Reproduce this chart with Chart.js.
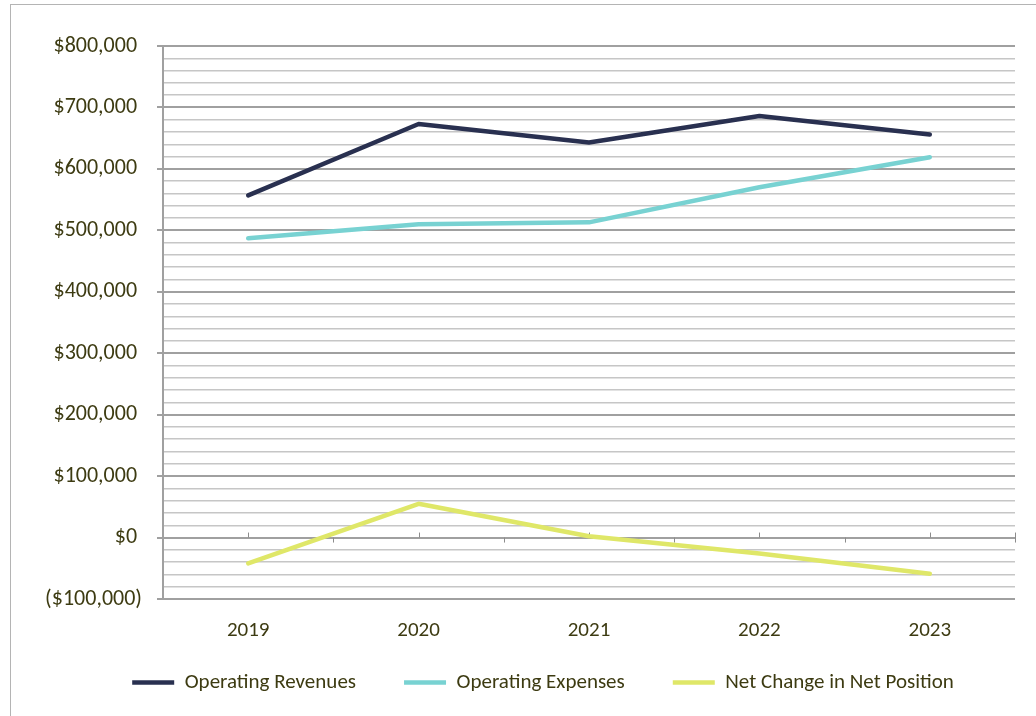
<!DOCTYPE html>
<html>
<head>
<meta charset="utf-8">
<script src="https://cdn.jsdelivr.net/npm/chart.js@4/dist/chart.umd.min.js"></script>
<style>
  html, body { margin: 0; padding: 0; background: #fff; overflow: hidden; }
  .frame { position: absolute; left: 10px; top: 4px; width: 1100px; height: 800px; border: 1px solid #b4b4b4; }
  .wrap { position: absolute; left: 0; top: 0; width: 1036px; height: 716px; }
</style>
</head>
<body>
<div class="frame"></div>
<div class="wrap"><canvas id="finChart"></canvas></div>
<script>
(function() {

    const years = ['2019', '2020', '2021', '2022', '2023'];
    const operatingRevenues = [557000, 673000, 643000, 686000, 656000];
    const operatingExpenses = [487000, 510000, 513000, 570000, 619000];
    const netChange = [-42000, 55000, 2000, -26000, -59000];

    const textColor = '#3d3b12';
    const fontFamily = 'Carlito, Lato, sans-serif';

    const fmt = (v) => {
        const s = '$' + Math.abs(v).toLocaleString('en-US');
        return v < 0 ? '(' + s + ')' : s + ' ';
    };

    // tick marks on the zero line, like the category axis crossing at 0
    const zeroAxisTicks = {
        id: 'zeroAxisTicks',
        beforeDatasetsDraw(chart) {
            const x = chart.scales.x, y = chart.scales.y, ctx = chart.ctx;
            const y0 = y.getPixelForValue(0);
            ctx.save();
            ctx.strokeStyle = '#8c8c8c';
            ctx.lineWidth = 1;
            ctx.beginPath();
            for (let i = 0; i < years.length; i++) {
                const cx = Math.round(x.getPixelForValue(i)) + 0.5;
                ctx.moveTo(cx, y0 - 5);
                ctx.lineTo(cx, y0);
                const bx = Math.round(x.getPixelForValue(i + 0.5)) + 0.5;
                ctx.moveTo(bx, i === years.length - 1 ? y0 - 5 : y0);
                ctx.lineTo(bx, y0 + 5);
            }
            ctx.stroke();
            ctx.restore();
        }
    };

    // keep tick labels from being clipped to the fixed axis boxes
    const unclipLabels = {
        id: 'unclipLabels',
        afterLayout(chart) {
            chart.scales.y.left = 0;
            chart.scales.x.bottom = chart.height;
        }
    };

    const lineDs = (label, data, color) => ({
        label: label,
        data: data,
        borderColor: color,
        backgroundColor: color,
        borderWidth: 4.5,
        borderCapStyle: 'round',
        borderJoinStyle: 'round',
        pointRadius: 0,
        pointHoverRadius: 0,
        tension: 0
    });

    const isMajor = (c) => c.tick && c.tick.value % 100000 === 0;

    new Chart(document.getElementById('finChart'), {
        type: 'line',
        data: {
            labels: years,
            datasets: [
                lineDs('Operating Revenues', operatingRevenues, '#293050'),
                lineDs('Operating Expenses', operatingExpenses, '#78d2d2'),
                lineDs('Net Change in Net Position', netChange, '#dfe768')
            ]
        },
        plugins: [zeroAxisTicks, unclipLabels],
        options: {
            responsive: true,
            maintainAspectRatio: false,
            animation: false,
            layout: { padding: { left: 71, right: 21, top: 46, bottom: 13 } },
            plugins: {
                tooltip: { enabled: false },
                legend: {
                    position: 'bottom',
                    labels: {
                        usePointStyle: true,
                        pointStyle: 'line',
                        pointStyleWidth: 42,
                        padding: 48,
                        color: textColor,
                        font: { family: fontFamily, size: 21 }
                    }
                }
            },
            scales: {
                x: {
                    offset: true,
                    grid: { display: false, drawTicks: false },
                    border: { display: false },
                    ticks: { color: textColor, padding: 19, font: { family: fontFamily, size: 21 } },
                    afterFit: (s) => { s.height = 25; }
                },
                y: {
                    min: -100000,
                    max: 800000,
                    afterFit: (s) => { s.width = 92; },
                    border: { color: '#a0a0a0', width: 2 },
                    grid: {
                        color: (c) => isMajor(c) ? '#a0a0a0' : '#c6c6c6',
                        lineWidth: (c) => isMajor(c) ? 2 : 1.5,
                        tickColor: (c) => isMajor(c) ? '#a0a0a0' : 'rgba(0,0,0,0)',
                        tickLength: 6
                    },
                    ticks: {
                        stepSize: 20000,
                        autoSkip: false,
                        padding: 15,
                        color: textColor,
                        font: { family: fontFamily, size: 22 },
                        callback: (v) => v % 100000 === 0 ? fmt(v) : ''
                    }
                }
            }
        }
    });

})();
</script>
</body>
</html>
